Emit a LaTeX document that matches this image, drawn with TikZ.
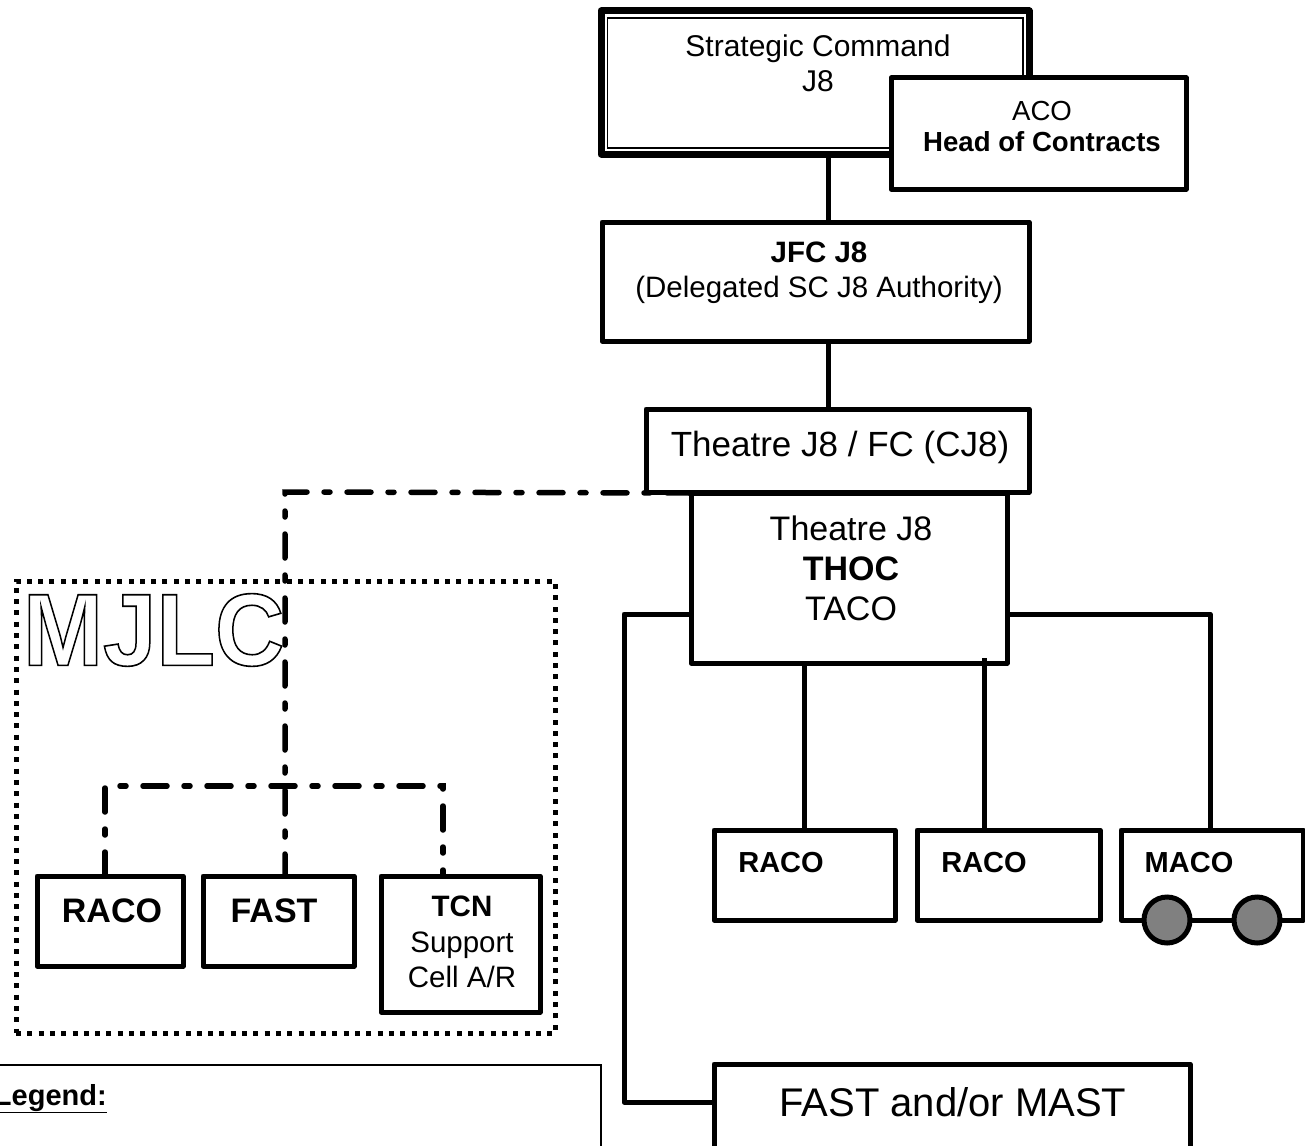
\documentclass[tikz,border=0pt]{standalone}
\usepackage{fontspec}
\setmainfont{Liberation Sans}
\usetikzlibrary{calc}
\newcommand{\fsz}[2]{\fontsize{#1}{#2}\selectfont}
\newcommand{\bx}[6][boxst]{\node[#1,minimum width=#5pt-#3pt,minimum height=#6pt-#4pt] (#2) at ({(#3+#5)/2},{(#4+#6)/2}) {};}
\tikzset{
  x=1pt,y=-1pt,
  boxst/.style={draw=black,fill=white,line width=5pt,inner sep=0pt,outer sep=0pt,line join=round},
  thinbox/.style={draw=black,fill=white,line width=1.5pt,inner sep=0pt,outer sep=0pt},
  inner box/.style={draw=black,line width=1.6pt,inner sep=0pt,outer sep=0pt},
  outer box/.style={draw=black,fill=white,line width=7pt,inner sep=0pt,outer sep=0pt,line join=round},
  dotbox/.style={draw=black,line width=5pt,dash pattern=on 5pt off 6.3pt,inner sep=0pt,outer sep=0pt},
  txt/.style={align=center,inner sep=0pt,outer sep=0pt,text=black},
  conn/.style={draw=black,line width=5pt},
  dashdot/.style={draw=black,line width=5.5pt,line cap=round,dash pattern=on 24pt off 17pt on 6pt off 17pt},
  wheel/.style={circle,draw=black,fill=black!50,line width=5pt,minimum size=46pt,inner sep=0pt,outer sep=0pt}
}
\begin{document}
\begin{tikzpicture}
\useasboundingbox (0,0) rectangle (1305,1145);
\clip (0,0) rectangle (1305,1145);
% top column
\coordinate (c1) at (828,0);
\bx[outer box]{sc}{601}{11}{1029}{154}
\bx[inner box]{scin}{607.5}{18}{1023}{148}
\bx{jfc}{602}{222}{1029}{341}
\draw[conn] (c1 |- sc.south) -- (c1 |- jfc.north);
\bx{aco}{891}{78}{1186}{189}
\bx{fc}{646}{409}{1029}{492}
\draw[conn] (c1 |- jfc.south) -- (c1 |- fc.north);
% right side connectors
\coordinate (l1) at (624,614);
\coordinate (l2) at (804,0);
\coordinate (l3) at (984,0);
\coordinate (l4) at (1210,614);
\coordinate (l5) at (714,1102);
\bx{thoc}{691}{493}{1007}{663}
\bx{r1}{714}{830}{895}{920}
\bx{r2}{917}{830}{1100}{920}
\bx{maco}{1121}{830}{1303}{920}
\bx{fm}{714}{1064}{1190}{1160}
\draw[conn] (l2 |- thoc.south) -- (l2 |- r1.north);
\draw[conn] (l3 |- thoc.south) ++(0,-5) -- (l3 |- r2.north);
\draw[conn,line join=round] (thoc.east |- l4) -- (l4) -- (l4 |- maco.north);
\draw[conn,line join=round] (thoc.west |- l1) -- (l1) |- (fm.west |- l5);
\node[wheel] (w1) at (1167,920) {};
\node[wheel] (w2) at (1257,920) {};
% MJLC
\bx[dotbox]{mjlc}{16}{581}{555}{1033}
\bx{raco}{37}{876}{183}{966}
\bx{fast}{203}{876}{354}{966}
\bx{tcn}{381}{876}{540}{1012}
\coordinate (v) at (285,492);
\draw[dashdot] (thoc.north west) -- (v) -- (v |- fast.north);
\draw[dashdot] ($(raco.north)+(-5,0)$) -- ++(0,-90) -- (443,786) -- (443,876);
% legend
\bx[thinbox]{leg}{-10}{1065}{601}{1170}
% texts
\node[txt,anchor=base west,font=\fsz{29}{33}\bfseries] (tleg) at (-6,1105) {\underline{Legend:}};
\node[txt,font=\fsz{30}{35}] (t1) at (818,63) {Strategic Command\\J8};
\node[txt,font=\fsz{27.6}{31}] (t2) at (1042,126) {ACO\\\textbf{Head of Contracts}};
\node[txt,font=\fsz{29.5}{35}] (t3) at (819,273) {\textbf{JFC J8}\\(Delegated SC J8 Authority)};
\node[txt,font=\fsz{35}{40}] (t4) at (840,447) {Theatre J8 / FC (CJ8)};
\node[txt,font=\fsz{34}{40}] (t5) at (851,568) {Theatre J8\\\textbf{THOC}\\TACO};
\node[txt,font=\fsz{29}{33}\bfseries] (t6) at (781,863) {RACO};
\node[txt,font=\fsz{29}{33}\bfseries] (t7) at (984,863) {RACO};
\node[txt,font=\fsz{29}{33}\bfseries] (t8) at (1189,863) {MACO};
\node[txt,font=\fsz{40}{44}] (t9) at (953,1102) {FAST and/or MAST};
\node[txt,font=\fsz{34}{38}\bfseries] (t10) at (112,911) {RACO};
\node[txt,font=\fsz{34}{38}\bfseries] (t11) at (274,911) {FAST};
\node[txt,font=\fsz{29.5}{35.5}] (t12) at (462,942) {\textbf{TCN}\\Support\\Cell A/R};
\node[txt,anchor=west,yscale=1.07] (t13) at (23,630) {\special{pdf:code q 1 Tr 1.5 w}\fsz{96}{100}\bfseries MJLC\special{pdf:code Q}};
\end{tikzpicture}
\end{document}
